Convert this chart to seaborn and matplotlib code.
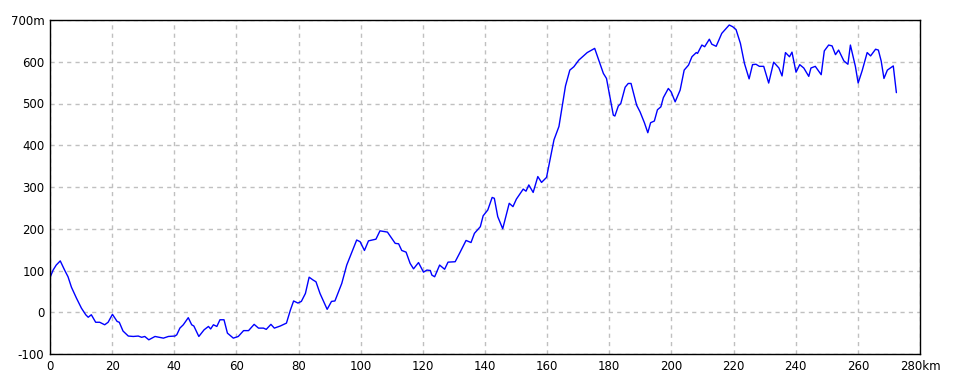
import matplotlib
matplotlib.use("Agg")
import matplotlib.pyplot as plt
import seaborn as sns
import pandas as pd

distance_km = [
    0, 1, 2, 3.3, 4.7, 5.8, 6.9, 8.5, 10.1, 11.5, 12.3, 13.3, 14.7, 16, 17.6, 18.7,
    20.1, 21.6, 22.3, 23.5, 25.2, 26.8, 28.4, 29.5, 30.5, 31.8, 33.8, 35.2, 36.5, 38.1,
    40.2, 40.8, 41.8, 42.9, 44.5, 45.6, 46.3, 47.9, 49.6, 51, 51.7, 52.6, 53.7, 54.7,
    56, 57.1, 59, 60.6, 62.3, 63.9, 65.7, 67.1, 68.7, 69.6, 71.1, 72.2, 74.1, 76.1,
    77.4, 78.4, 79.8, 80.9, 82.2, 83.4, 84.7, 85.6, 86.9, 89.2, 90.6, 91.7, 93.9, 95.5,
    98.7, 99.8, 101.2, 102.5, 104.9, 106.2, 108.6, 111.1, 112.2, 113.2, 114.6, 115.9,
    117, 118.6, 120.2, 121.3, 122.4, 122.9, 123.8, 125.4, 127, 128.1, 130.4, 131.8,
    133.9, 135.5, 136.6, 138.5, 139.4, 140.9, 142.3, 143, 144.1, 145.7, 147.8, 149,
    150.1, 152.3, 153.2, 154.1, 155.5, 157, 158.2, 159.8, 162.2, 163.8, 165.9, 167.3,
    168.6, 170.2, 172.9, 175.3, 176.7, 178.1, 179.1, 180.2, 181.3, 181.8, 182.9, 183.7,
    185.1, 186.1, 187, 188.8, 189.9, 191.3, 192.4, 193.3, 194.5, 195.5, 196.6, 197.4,
    199, 199.9, 201.2, 202.8, 204.1, 205.5, 206.6, 208, 208.4, 209.8, 210.7, 212.2, 213,
    214.4, 216.2, 218.6, 219.7, 220.8, 222.2, 223.5, 225, 226.1, 227.2, 228.3, 229.7,
    231.3, 232.9, 234.6, 235.6, 236.7, 238, 238.8, 240.1, 241.3, 242.6, 244.2, 244.9,
    246.3, 248.2, 249.2, 250.6, 251.7, 252.8, 253.8, 255.5, 256.8, 257.6, 259.2, 260.1,
    261.4, 263, 264.1, 265.7, 266.6, 267.5, 268.4, 269.5, 271.4, 271.8, 272.4,
]
elevation_m = [
    83, 101, 113, 123, 101, 85, 60, 34, 10, -6, -12, -6, -24, -24, -30, -24,
    -5, -22, -24, -45, -57, -58, -57, -60, -58, -66, -58, -60, -62, -58,
    -57, -54, -38, -30, -13, -30, -33, -58, -42, -34, -40, -30, -34, -18,
    -18, -50, -62, -58, -44, -44, -29, -38, -38, -41, -29, -38, -33, -26,
    6, 27, 22, 26, 45, 84, 77, 73, 45, 7, 26, 27, 69, 113,
    173, 169, 148, 171, 175, 195, 192, 165, 164, 148, 144, 117,
    104, 119, 96, 101, 100, 89, 85, 113, 103, 120, 121, 141,
    172, 167, 189, 205, 231, 245, 275, 273, 229, 200, 261, 253,
    271, 295, 290, 305, 287, 325, 311, 323, 413, 445, 542, 580,
    588, 604, 622, 632, 602, 572, 560, 516, 472, 470, 494, 500,
    539, 548, 548, 496, 480, 454, 430, 454, 458, 485, 492, 514,
    536, 528, 504, 532, 580, 592, 612, 622, 620, 640, 636, 654, 642,
    637, 668, 688, 684, 677, 644, 596, 559, 593, 594, 589, 589,
    549, 599, 585, 566, 622, 612, 623, 575, 593, 585, 565, 585,
    589, 569, 626, 640, 638, 617, 628, 602, 594, 640, 589, 549,
    579, 622, 614, 630, 628, 602, 560, 580, 590, 565, 526,
]

x_ticks = [0, 20, 40, 60, 80, 100, 120, 140, 160, 180, 200, 220, 240, 260, 280]
x_tick_labels = [str(v) for v in x_ticks[:-1]] + ["280km"]
y_ticks = [-100, 0, 100, 200, 300, 400, 500, 600, 700]
y_tick_labels = [str(v) for v in y_ticks[:-1]] + ["700m"]

df = pd.DataFrame({"km": distance_km, "m": elevation_m})

sns.set_style("white")
plt.rcParams["font.family"] = ["DejaVu Sans"]

fig = plt.figure(figsize=(9.6, 3.84), dpi=100)
ax = fig.add_axes([50 / 960, 30 / 384, 870 / 960, 334 / 384])

sns.lineplot(data=df, x="km", y="m", ax=ax, color="#0000ff", linewidth=1.0,
             sort=False, estimator=None)

ax.set_xlim(0, 280)
ax.set_ylim(-100, 700)
ax.set_xticks(x_ticks)
ax.set_xticklabels(x_tick_labels)
ax.set_yticks(y_ticks)
ax.set_yticklabels(y_tick_labels)
ax.set_xlabel("")
ax.set_ylabel("")
ax.tick_params(axis="both", length=0, labelsize=8.5, colors="black", pad=4)

ax.grid(True, color="#c0c0c0", linestyle=(0, (3, 3)), linewidth=1.0)
ax.set_axisbelow(True)
for s in ax.spines.values():
    s.set_visible(True)
    s.set_color("black")
    s.set_linewidth(1.0)

fig.savefig("out.png", dpi=100, facecolor="white")
